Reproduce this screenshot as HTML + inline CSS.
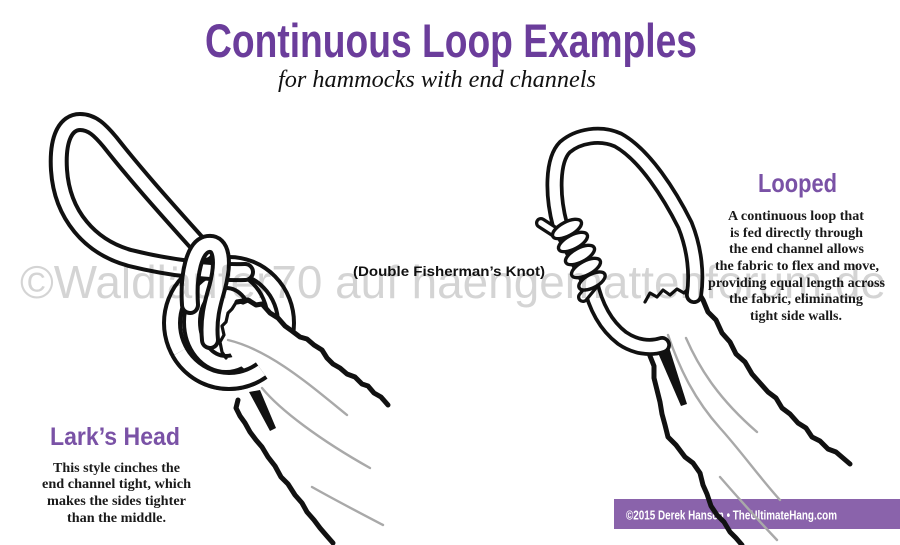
<!DOCTYPE html>
<html>
<head>
<meta charset="utf-8">
<style>
  html,body{margin:0;padding:0;background:#fff;}
  body{width:900px;height:545px;overflow:hidden;}
  svg{display:block;}
  .tb{fill:none;stroke:#111;stroke-width:20;stroke-linecap:round;stroke-linejoin:round;}
  .tw{fill:none;stroke:#fff;stroke-width:12;stroke-linecap:round;stroke-linejoin:round;}
  .rb{fill:none;stroke:#111;stroke-width:18;stroke-linecap:round;stroke-linejoin:round;}
  .rw{fill:none;stroke:#fff;stroke-width:10.5;stroke-linecap:round;stroke-linejoin:round;}
  .edge{fill:none;stroke:#111;stroke-width:5;stroke-linecap:round;stroke-linejoin:round;}
  .jag{fill:none;stroke:#111;stroke-width:3.2;stroke-linecap:round;stroke-linejoin:round;}
  .fold{fill:none;stroke:#a9a9a9;stroke-width:2.4;stroke-linecap:round;}
  .body{font-family:"Liberation Serif",serif;font-weight:bold;font-size:14px;fill:#1a1a1a;}
</style>
</head>
<body>
<svg width="900" height="545" viewBox="0 0 900 545" xmlns="http://www.w3.org/2000/svg">
  <rect width="900" height="545" fill="#fff"/>

  <!-- footer bar (behind drawing lines) -->
  <rect x="614" y="499" width="286" height="30" fill="#8a63ab"/>
  <text x="626" y="519.5" font-family="'Liberation Sans',sans-serif" font-weight="bold" font-size="13" fill="#fff" textLength="211" lengthAdjust="spacingAndGlyphs">©2015 Derek Hansen • TheUltimateHang.com</text>

  <!-- Title -->
  <text x="205" y="57" font-family="'Liberation Sans',sans-serif" font-weight="bold" font-size="47" fill="#6b3d9b" textLength="492" lengthAdjust="spacingAndGlyphs">Continuous Loop Examples</text>
  <text x="278" y="87" font-family="'Liberation Serif',serif" font-style="italic" font-size="24" fill="#111" textLength="318" lengthAdjust="spacingAndGlyphs">for hammocks with end channels</text>

  <!-- ============ LEFT DRAWING (Lark's Head) ============ -->
  <ellipse cx="229" cy="323" rx="57" ry="58" class="tb"/>
  <ellipse cx="229" cy="323" rx="57" ry="58" class="tw"/>
  <ellipse cx="226" cy="322" rx="34" ry="42" class="tb"/>
  <ellipse cx="226" cy="322" rx="34" ry="42" class="tw"/>
  <path d="M 245,272 C 215,273 170,268 130,258 C 90,247 62,215 59,170 C 57,138 66,122 80,122 C 92,122 100,130 110,142 C 140,180 172,215 205,252" class="tb"/>
  <path d="M 245,272 C 215,273 170,268 130,258 C 90,247 62,215 59,170 C 57,138 66,122 80,122 C 92,122 100,130 110,142 C 140,180 172,215 205,252" class="tw"/>

  <polygon points="237,302 248,300 262,304 278,318 292,331 307,339 322,350 333,364 347,374 362,384 374,393 388,405 395,430 360,480 333,543 307,512 281,477 256,440 240,410 240,398 255,392 258,385 248,372 234,360 226,345 222,330 228,313" fill="#fff"/>
  <path d="M 228,340 C 270,350 310,385 347,415" class="fold"/>
  <path d="M 262,388 C 280,410 320,440 370,468" class="fold"/>
  <path d="M 312,487 C 335,500 360,513 383,525" class="fold"/>
  <polyline points="237,302 248,300 256,305 262,304 270,313 278,318 285,326 292,331 300,337 307,339 314,345 322,350 327,358 333,364 340,368 347,374 355,377 362,384 368,386 374,393 381,397 388,405" class="edge"/>
  <polyline points="238,400 236,408 240,416 245,423 250,432 256,440 262,447 268,457 275,466 281,477 288,484 295,495 302,503 307,512 314,520 320,528 326,535 333,543" class="edge"/>
  <polyline points="250,300 243,303 237,301 232,309 228,313 226,322 222,326 224,335 220,342 222,352 226,358" class="jag"/>
  <polygon points="249,392 260,390 276,428 270,431" fill="#111"/>
  <path d="M 261.7,370.5 A 57 58 0 0 1 179.6,352" fill="none" stroke="#111" stroke-width="20"/>
  <path d="M 261.7,370.5 A 57 58 0 0 1 179.6,352" fill="none" stroke="#fff" stroke-width="12"/>
  <path d="M 190,305 C 188,275 194,246 208,244 C 222,242 224,262 217,288 C 212,305 208,320 210,340" class="tb"/>
  <path d="M 190,305 C 188,275 194,246 208,244 C 222,242 224,262 217,288 C 212,305 208,320 210,340" class="tw"/>

  <!-- ============ RIGHT DRAWING (Looped) ============ -->
  <polygon points="643,300 650,292 660,296 668,289 678,293 688,287 697,290 712,318 735,352 760,385 787,413 760,450 700,460 664,425 655,385 648,345" fill="#fff"/>
  <path d="M 668,335 C 680,370 695,400 720,428 C 740,450 760,478 780,500" class="fold"/>
  <path d="M 686,338 C 700,370 720,400 757,432" class="fold"/>
  <path d="M 720,477 C 740,500 760,522 777,540" class="fold"/>
  <polyline points="697,290 703,300 708,312 716,320 722,333 730,342 736,354 745,362 752,374 760,383 768,392 776,398 782,408 790,414 798,423 806,428 812,437 820,441 828,449 836,452 843,458 850,464" class="edge"/>
  <polyline points="648,345 650,356 654,366 654,378 657,390 660,402 662,414 665,425 668,437 676,445 685,457 693,463 700,473 703,485 707,494 711,506 717,515 724,522 730,532 736,538 742,545" class="edge"/>
  <polyline points="645,302 650,293 657,297 663,290 670,295 677,289 684,293 690,287 697,291" class="jag"/>
  <polygon points="655,346 668,344 687,404 681,406" fill="#111"/>

  <path d="M 662,345 C 650,349 635,347 622,338 C 605,325 595,305 590,282 L 560,225 C 552,195 552,160 565,147 C 578,136 600,132 618,140 C 645,155 670,195 685,225 C 695,250 697,275 694,295" class="rb"/>
  <path d="M 662,345 C 650,349 635,347 622,338 C 605,325 595,305 590,282 L 560,225 C 552,195 552,160 565,147 C 578,136 600,132 618,140 C 645,155 670,195 685,225 C 695,250 697,275 694,295" class="rw"/>
  <path d="M 558,234 L 541,223" fill="none" stroke="#111" stroke-width="12" stroke-linecap="round"/>
  <path d="M 558,234 L 541,223" fill="none" stroke="#fff" stroke-width="5.5" stroke-linecap="round"/>
  <path d="M 592,286 L 583,297" fill="none" stroke="#111" stroke-width="12" stroke-linecap="round"/>
  <path d="M 592,286 L 583,297" fill="none" stroke="#fff" stroke-width="5.5" stroke-linecap="round"/>
  <g fill="#fff" stroke="#111" stroke-width="3.4">
    <ellipse cx="567" cy="229" rx="16" ry="7" transform="rotate(-28 567 229)"/>
    <ellipse cx="573" cy="242" rx="16" ry="7" transform="rotate(-28 573 242)"/>
    <ellipse cx="580" cy="255" rx="16" ry="7" transform="rotate(-28 580 255)"/>
    <ellipse cx="586" cy="268" rx="16" ry="7" transform="rotate(-28 586 268)"/>
    <ellipse cx="592" cy="281" rx="14.5" ry="6.7" transform="rotate(-28 592 281)"/>
  </g>

  <!-- Labels -->
  <text x="353" y="276" font-family="'Liberation Sans',sans-serif" font-weight="bold" font-size="14" fill="#111" textLength="192" lengthAdjust="spacingAndGlyphs">(Double Fisherman’s Knot)</text>

  <text x="758" y="192" font-family="'Liberation Sans',sans-serif" font-weight="bold" font-size="26" fill="#7a52a6" textLength="79" lengthAdjust="spacingAndGlyphs">Looped</text>
  <text class="body" x="728" y="220" textLength="136" lengthAdjust="spacingAndGlyphs">A continuous loop that</text>
  <text class="body" x="730" y="237" textLength="133" lengthAdjust="spacingAndGlyphs">is fed directly through</text>
  <text class="body" x="729" y="253" textLength="135" lengthAdjust="spacingAndGlyphs">the end channel allows</text>
  <text class="body" x="715" y="270" textLength="164" lengthAdjust="spacingAndGlyphs">the fabric to flex and move,</text>
  <text class="body" x="708" y="287" textLength="177" lengthAdjust="spacingAndGlyphs">providing equal length across</text>
  <text class="body" x="729" y="303" textLength="134" lengthAdjust="spacingAndGlyphs">the fabric, eliminating</text>
  <text class="body" x="750" y="320" textLength="92" lengthAdjust="spacingAndGlyphs">tight side walls.</text>

  <text x="50" y="445" font-family="'Liberation Sans',sans-serif" font-weight="bold" font-size="25" fill="#7a52a6" textLength="130" lengthAdjust="spacingAndGlyphs">Lark’s Head</text>
  <text class="body" x="53" y="472" textLength="127" lengthAdjust="spacingAndGlyphs">This style cinches the</text>
  <text class="body" x="42" y="488" textLength="149" lengthAdjust="spacingAndGlyphs">end channel tight, which</text>
  <text class="body" x="47" y="505" textLength="139" lengthAdjust="spacingAndGlyphs">makes the sides tighter</text>
  <text class="body" x="67" y="522" textLength="99" lengthAdjust="spacingAndGlyphs">than the middle.</text>

  <!-- watermark -->
  <text x="20" y="298" font-family="'Liberation Sans',sans-serif" font-size="46" fill="#000" fill-opacity="0.17" textLength="866" lengthAdjust="spacingAndGlyphs">©Waldläufer70 auf haengemattenforum.de</text>
</svg>
</body>
</html>
